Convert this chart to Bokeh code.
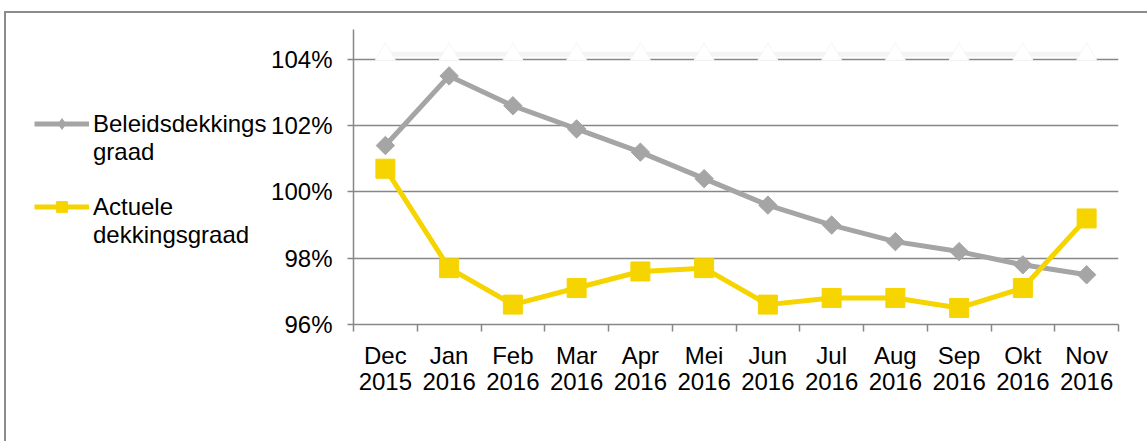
import numpy as np
from bokeh.plotting import figure
from bokeh.layouts import row
from bokeh.models import (Range1d, FixedTicker, LinearAxis, Legend, LegendItem,
                          PrintfTickFormatter, Grid)
from bokeh.embed import file_html
from bokeh.resources import INLINE

# ---- data ----
months = ["Dec\n2015", "Jan\n2016", "Feb\n2016", "Mar\n2016", "Apr\n2016", "Mei\n2016",
          "Jun\n2016", "Jul\n2016", "Aug\n2016", "Sep\n2016", "Okt\n2016", "Nov\n2016"]
beleidsdekkingsgraad = [101.4, 103.5, 102.6, 101.9, 101.2, 100.4, 99.6, 99.0, 98.5, 98.2, 97.8, 97.5]
actuele_dekkingsgraad = [100.7, 97.7, 96.6, 97.1, 97.6, 97.7, 96.6, 96.8, 96.8, 96.5, 97.1, 99.2]
grens = [104.15, 104.15, 104.15, 104.15, 104.15, 104.15, 104.15, 104.15, 104.15, 104.15, 104.15, 104.15]
y_ticks = [96, 98, 100, 102, 104]
legend_lines = [["Beleidsdekkings", "graad"], ["Actuele", "dekkingsgraad"]]

FONT = "Liberation Sans"
FS = "24px"
GRAY_AX = "#878787"
GRAY = "#a5a5a5"
YELLOW = "#f5d400"
H = 428
LW = 262

x = list(range(len(months)))

# ---------------- main chart ----------------
p = figure(width=1141 - LW, height=H,
           x_range=Range1d(-0.5, len(months) - 0.5), y_range=Range1d(96, 104.9),
           output_backend="svg", toolbar_location=None,
           x_axis_type=None, y_axis_type=None,
           min_border_left=347 - LW, min_border_right=29, min_border_top=16, min_border_bottom=117)
p.outline_line_color = None
p.background_fill_color = "white"
p.border_fill_color = "white"

yaxis = LinearAxis(ticker=FixedTicker(ticks=y_ticks, minor_ticks=[]),
                   formatter=PrintfTickFormatter(format="%d%%"))
yaxis.axis_line_color = GRAY_AX
yaxis.axis_line_width = 1.5
yaxis.major_tick_line_color = GRAY_AX
yaxis.major_tick_line_width = 1.5
yaxis.major_tick_out = 6
yaxis.major_tick_in = 0
yaxis.minor_tick_line_color = None
yaxis.major_label_standoff = 15
yaxis.major_label_text_font = FONT
yaxis.major_label_text_font_size = FS
yaxis.major_label_text_color = "black"
p.add_layout(yaxis, "left")

p.add_layout(Grid(dimension=1, ticker=yaxis.ticker, grid_line_color=GRAY_AX, grid_line_width=1.5))

xaxis = LinearAxis(ticker=FixedTicker(ticks=x, minor_ticks=[i - 0.5 for i in range(len(months) + 1)]))
xaxis.major_label_overrides = {i: m for i, m in zip(x, months)}
xaxis.axis_line_color = GRAY_AX
xaxis.axis_line_width = 1.5
xaxis.major_tick_line_color = None
xaxis.major_tick_out = 0
xaxis.major_tick_in = 0
xaxis.minor_tick_line_color = GRAY_AX
xaxis.minor_tick_line_width = 1.5
xaxis.minor_tick_out = 7
xaxis.minor_tick_in = 0
xaxis.major_label_standoff = 10
xaxis.major_label_text_font = FONT
xaxis.major_label_text_font_size = FS
xaxis.major_label_text_color = "black"
xaxis.major_label_text_line_height = 0.98
p.add_layout(xaxis, "below")

# white reference series near the top
p.line(x, grens, line_color="#f4f4f4", line_width=5)
p.scatter(x, grens, marker="triangle", size=20, fill_color="white", line_color="#f6f6f6")

p.line(x, beleidsdekkingsgraad, line_color=GRAY, line_width=5)
p.scatter(x, beleidsdekkingsgraad, marker="square", angle=np.pi / 4, size=13,
          fill_color=GRAY, line_color=GRAY)
p.line(x, actuele_dekkingsgraad, line_color=YELLOW, line_width=5)
p.scatter(x, actuele_dekkingsgraad, marker="square", size=19,
          fill_color=YELLOW, line_color=YELLOW)

# ---------------- legend panel ----------------
# The series are repeated here (outside this panel's visible range) only to drive the legend glyphs.
lg = figure(width=LW, height=H, x_range=Range1d(-0.5, len(months) - 0.5), y_range=Range1d(0, 1),
            output_backend="svg", toolbar_location=None,
            x_axis_type=None, y_axis_type=None,
            min_border_left=0, min_border_right=0, min_border_top=0, min_border_bottom=0)
lg.outline_line_color = None
lg.background_fill_color = "white"
lg.border_fill_color = "white"
lg.xgrid.visible = False
lg.ygrid.visible = False

b_line = lg.line(x, beleidsdekkingsgraad, line_color=GRAY, line_width=5)
b_pts = lg.scatter(x, beleidsdekkingsgraad, marker="diamond", size=13, fill_color=GRAY, line_color=GRAY)
a_line = lg.line(x, actuele_dekkingsgraad, line_color=YELLOW, line_width=5)
a_pts = lg.scatter(x, actuele_dekkingsgraad, marker="square", size=19, fill_color=YELLOW, line_color=YELLOW)
blank = lg.line(x, grens, line_alpha=0)

legend = Legend(items=[
    LegendItem(label=legend_lines[0][0], renderers=[b_line, b_pts]),
    LegendItem(label=legend_lines[0][1], renderers=[blank]),
    LegendItem(label=" ", renderers=[blank]),
    LegendItem(label=legend_lines[1][0], renderers=[a_line, a_pts]),
    LegendItem(label=legend_lines[1][1], renderers=[blank]),
], location=(28, 75.5), orientation="vertical")
legend.padding = 0
legend.margin = 0
legend.spacing = 0
legend.glyph_width = 55
legend.glyph_height = 27
legend.label_height = 27
legend.label_standoff = 4
legend.label_text_font = FONT
legend.label_text_font_size = FS
legend.label_text_color = "black"
legend.border_line_color = None
legend.background_fill_alpha = 0
lg.add_layout(legend)

layout = row(lg, p, spacing=0)
layout.styles = {"border-left": "2px solid #8c8c8c", "border-top": "2px solid #8c8c8c",
                 "position": "relative", "left": "4px", "top": "11px"}

open("out.html", "w").write(file_html(layout, INLINE))
